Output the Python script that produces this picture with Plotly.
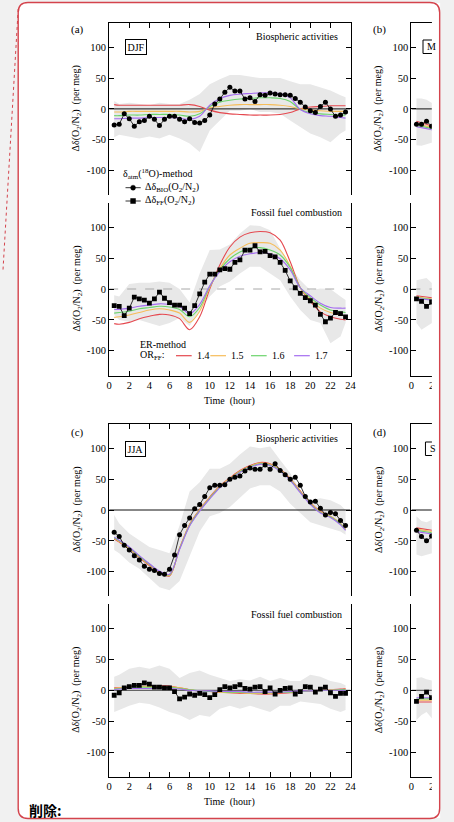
import plotly.graph_objects as go

W, H = 454, 822

# ---------------- data ----------------
hours = [0.5, 1.0, 1.5, 2.0, 2.5, 3.0, 3.5, 4.0, 4.5, 5.0, 5.5, 6.0, 6.5, 7.0, 7.5, 8.0,
         8.5, 9.0, 9.5, 10.0, 10.5, 11.0, 11.5, 12.0, 12.5, 13.0, 13.5, 14.0, 14.5, 15.0,
         15.5, 16.0, 16.5, 17.0, 17.5, 18.0, 18.5, 19.0, 19.5, 20.0, 20.5, 21.0, 21.5, 22.0,
         22.5, 23.0, 23.5]
grid = [0.5, 1, 2, 3, 4, 5, 6, 7, 8, 9, 10, 11, 12, 13, 14, 15, 16, 17, 18, 19, 20, 21, 22, 23, 23.5]
edge_hours = [0.5, 1.0, 1.5, 2.0, 2.5]

or_ff_labels = ["1.4", "1.5", "1.6", "1.7"]
x_tickvals = [0, 2, 4, 6, 8, 10, 12, 14, 16, 18, 20, 22, 24]
x_tickvals_edge = [0, 2]
y_tickvals = [-100, -50, 0, 50, 100]
y_ticktext = ["-100", "-50", "0", "50", "100"]

# (a) DJF, biospheric
djf_bio = [-26, -25, -8, -16, -28, -21, -19, -12, -17, -27, -17, -12, -12, -17, -21, -16, -22,
           -23, -19, -10, 8, 16, 27, 35, 29, 29, 16, 18, 12, 23, 22, 26, 24, 23, 23, 22, 17, 11,
           3, -3, -6, 4, 11, 0, -12, -10, -5]
djf_bio_up = [13, 8, 10, 8, 6, 10, 8, 8, 15, 24, 40, 48, 55, 55, 52, 50, 50, 50, 45, 40, 40, 35, 30, 22, 19]
djf_bio_lo = [-46, -42, -45, -48, -45, -48, -42, -48, -56, -70, -35, -19, -3, -3, 0, -5, -5, -8, -19, -30, -40, -46, -54, -40, -35]
djf_bio_er = [
    [7, 6, 6, 6, 6, 6, 6, 6, 7, 4, -2, -6, -8, -9, -10, -10, -10, -9, -6, 0, 3, 4, 5, 5, 5],
    [-5, -5, -4, -4, -4, -4, -4, -4, -5, -4, 2, 4, 6, 7, 7, 7, 7, 6, 4, 0, -2, -3, -4, -4, -4],
    [-11, -11, -10, -10, -9, -9, -9, -10, -12, -8, 4, 11, 14, 16, 17, 18, 18, 17, 12, -1, -6, -8, -9, -10, -10],
    [-16, -16, -15, -15, -14, -14, -14, -15, -17, -12, 6, 17, 22, 24, 25, 26, 26, 25, 18, -1, -8, -11, -12, -14, -15],
]

# (a) DJF, fossil fuel
djf_ff = [-27, -28, -43, -31, -13, -16, -18, -23, -16, -5, -15, -22, -26, -26, -31, -40, -27,
          -8, 11, 24, 24, 31, 33, 32, 43, 47, 63, 63, 70, 60, 61, 54, 52, 43, 30, 13, 2, -7,
          -14, -19, -26, -41, -53, -47, -38, -40, -45]
djf_ff_up = [-10, -12, 8, 10, 10, 12, 10, 0, -22, 25, 63, 64, 72, 90, 103, 102, 95, 65, 36, 14, -2, 1, 0, -12, -18]
djf_ff_lo = [-42, -50, -53, -50, -55, -60, -55, -47, -60, -34, -12, 4, 12, 25, 36, 36, 25, 14, -12, -34, -50, -55, -88, -77, -55]
djf_ff_er = [
    [-56, -57, -54, -48, -44, -41, -42, -48, -66, -45, 0, 39, 68, 84, 91, 93, 91, 79, 44, 2, -20, -37, -45, -49, -50],
    [-46, -45, -42, -38, -34, -32, -34, -39, -54, -36, 3, 33, 55, 66, 74, 75, 74, 63, 37, 2, -17, -31, -38, -42, -44],
    [-39, -38, -36, -32, -30, -28, -29, -33, -45, -30, 4, 31, 49, 60, 66, 67, 63, 55, 35, 2, -14, -26, -34, -37, -38],
    [-33, -33, -31, -28, -26, -24, -25, -28, -40, -25, 5, 28, 44, 53, 57, 59, 57, 49, 31, 2, -11, -23, -30, -31, -31],
]

# (c) JJA, biospheric
jja_bio = [-36, -43, -57, -65, -74, -81, -91, -96, -98, -103, -104, -96, -73, -40, -25, -13, 2,
           9, 22, 36, 40, 40, 41, 50, 53, 55, 63, 68, 66, 66, 73, 66, 75, 64, 57, 50, 53, 40,
           22, 13, 14, 3, -8, -4, -6, -17, -25]
jja_bio_up = [-8, -22, -38, -49, -60, -65, -70, -25, 30, 45, 67, 67, 75, 90, 103, 100, 103, 81, 60, 32, 16, 19, 16, 8, 0]
jja_bio_lo = [-65, -70, -85, -95, -110, -125, -130, -115, -75, -35, -10, -5, 5, 20, 35, 40, 40, 30, 10, -5, -20, -25, -30, -35, -40]
jja_bio_er = [
    [-47, -52, -63, -77, -90, -101, -107, -62, -23, 1, 21, 39, 52, 64, 72, 77, 75, 66, 51, 31, 12, -2, -10, -22, -31],
    [-46, -51, -62, -76, -89, -100, -106, -62, -24, 0, 20, 38, 51, 63, 71, 76, 74, 65, 50, 30, 11, -3, -10, -22, -31],
    [-45, -50, -61, -75, -88, -100, -105, -63, -25, -1, 19, 37, 50, 62, 70, 75, 73, 64, 49, 29, 10, -4, -11, -23, -32],
    [-44, -49, -60, -74, -87, -99, -104, -64, -26, -2, 18, 36, 49, 61, 69, 74, 72, 63, 48, 28, 9, -5, -12, -24, -33],
]

# (c) JJA, fossil fuel
jja_ff = [-8, -4, 4, 6, 8, 8, 12, 10, 5, 5, 4, 4, -2, -14, -11, -6, -8, -5, -7, -12, -7, 1,
          6, 4, 6, 9, 3, 2, 5, 6, -2, 4, -6, 0, 3, 4, -6, -2, 6, 5, -3, 2, 5, -4, -10, -5, -5]
jja_ff_up = [22, 25, 35, 38, 35, 40, 35, 20, 28, 32, 25, 20, 15, 18, 16, 22, 15, 20, 15, 15, 25, 22, 15, 12, 8]
jja_ff_lo = [-35, -32, -25, -20, -22, -28, -35, -40, -48, -40, -43, -30, -25, -30, -25, -30, -35, -25, -25, -18, -20, -22, -30, -35, -32]
jja_ff_er = [
    [4, 4, 5, 6, 7, 7, 7, 4, 1, -1, -2, -3, -4, -5, -5, -6, -6, -5, -4, -2, -1, 0, 1, 2, 3],
    [3, 4, 5, 6, 6, 6, 6, 4, 1, -1, -2, -3, -4, -4, -5, -5, -5, -4, -3, -2, -1, 0, 1, 1, 2],
    [2, 3, 4, 5, 5, 5, 5, 3, 1, -1, -2, -2, -3, -3, -4, -4, -4, -3, -3, -2, -1, 0, 0, 1, 1],
    [1, 2, 3, 3, 3, 3, 3, 2, 0, -1, -1, -2, -2, -2, -3, -3, -3, -3, -2, -1, -1, 0, 0, 0, 0],
]

# (b) MAM (only first hours visible)
mam_bio = [-25, -25, -20, -28, -30]
mam_bio_up = [17, 17, 15, 10, 8]
mam_bio_lo = [-59, -60, -58, -55, -55]
mam_bio_er = [[-20, -22, -25, -28, -30], [-25, -26, -28, -30, -32],
              [-27, -28, -30, -32, -34], [-29, -30, -32, -34, -36]]
mam_ff = [-16, -20, -28, -21, -18]
mam_ff_up = [14, 16, 18, 10, 8]
mam_ff_lo = [-55, -66, -60, -55, -50]
mam_ff_er = [[-11, -12, -13, -14, -15], [-13, -14, -15, -16, -17],
             [-14, -15, -16, -17, -18], [-15, -16, -17, -18, -19]]

# (d) SON (only first hours visible)
son_bio = [-33, -43, -50, -42, -38]
son_bio_up = [-10, -18, -20, -15, -12]
son_bio_lo = [-72, -75, -72, -70, -68]
son_bio_er = [[-29, -30, -31, -33, -34], [-31, -32, -33, -35, -36],
              [-33, -34, -35, -37, -38], [-35, -36, -37, -39, -40]]
son_ff = [-18, -10, -3, -12, -14]
son_ff_up = [20, 21, 18, 16, 14]
son_ff_lo = [-48, -40, -35, -45, -48]
son_ff_er = [[-19, -19, -19, -19, -19], [-16, -16, -16, -16, -16],
             [-14, -13.5, -13.5, -13.5, -13.5], [-12, -12, -12, -12, -12]]

# ---------------- styling ----------------
SERIF = "Liberation Serif"
ER_COLORS = ["#e5484f", "#f6bd5a", "#6cd46c", "#a46cf0"]
BAND = "#e8e8e8"
PAGE_BG = "#f1f1f1"
BORDER = "#d4434c"
X_RANGE = [0, 24]
X_RANGE_EDGE = [0, 2.03]
Y_RANGE = [-140, 140]


def fx(p):
    return p / W


def fy(p):
    return 1 - p / H


LEFT_DOM = [fx(108.3), fx(354.6)]
RIGHT_DOM = [fx(416.7), fx(416.7 + 2.03 * (354.6 - 108.3) / 24)]
ROWS = [(22.7, 195.1), (202.5, 375.5), (423.6, 596.4), (603.9, 776.7)]

panels = [
    dict(col=0, row=0, x=hours, y=djf_bio, sym="circle", mx=grid, up=djf_bio_up, lo=djf_bio_lo, er=djf_bio_er, zc="#111", zd="solid"),
    dict(col=0, row=1, x=hours, y=djf_ff, sym="square", mx=grid, up=djf_ff_up, lo=djf_ff_lo, er=djf_ff_er, zc="#a8a8a8", zd="dash"),
    dict(col=0, row=2, x=hours, y=jja_bio, sym="circle", mx=grid, up=jja_bio_up, lo=jja_bio_lo, er=jja_bio_er, zc="#111", zd="solid"),
    dict(col=0, row=3, x=hours, y=jja_ff, sym="square", mx=grid, up=jja_ff_up, lo=jja_ff_lo, er=jja_ff_er, zc="#444", zd="solid"),
    dict(col=1, row=0, x=edge_hours, y=mam_bio, sym="circle", mx=edge_hours, up=mam_bio_up, lo=mam_bio_lo, er=mam_bio_er, zc="#111", zd="solid"),
    dict(col=1, row=1, x=edge_hours, y=mam_ff, sym="square", mx=edge_hours, up=mam_ff_up, lo=mam_ff_lo, er=mam_ff_er, zc="#a8a8a8", zd="dash"),
    dict(col=1, row=2, x=edge_hours, y=son_bio, sym="circle", mx=edge_hours, up=son_bio_up, lo=son_bio_lo, er=son_bio_er, zc="#111", zd="solid"),
    dict(col=1, row=3, x=edge_hours, y=son_ff, sym="square", mx=edge_hours, up=son_ff_up, lo=son_ff_lo, er=son_ff_er, zc="#444", zd="solid"),
]

fig = go.Figure()
layout_axes = {}

for i, p in enumerate(panels, start=1):
    xa = "x" if i == 1 else f"x{i}"
    ya = "y" if i == 1 else f"y{i}"
    left = p["col"] == 0
    xr = X_RANGE if left else X_RANGE_EDGE
    smooth = "spline" if left else "linear"

    band_x = list(p["mx"]) + list(p["mx"])[::-1]
    band_y = list(p["up"]) + list(p["lo"])[::-1]
    fig.add_trace(go.Scatter(x=band_x, y=band_y, mode="lines", fill="toself",
                             fillcolor=BAND, line=dict(color="rgba(0,0,0,0)", width=0),
                             xaxis=xa, yaxis=ya, hoverinfo="skip", showlegend=False))
    fig.add_trace(go.Scatter(x=X_RANGE, y=[0, 0], mode="lines",
                             line=dict(color=p["zc"], width=1, dash=p["zd"]),
                             xaxis=xa, yaxis=ya, hoverinfo="skip", showlegend=False))
    for er_vals, col, lab in zip(p["er"], ER_COLORS, or_ff_labels):
        fig.add_trace(go.Scatter(x=p["mx"], y=er_vals, mode="lines", name=lab,
                                 line=dict(color=col, width=1.1, shape=smooth, smoothing=0.9),
                                 xaxis=xa, yaxis=ya, showlegend=False))
    fig.add_trace(go.Scatter(x=p["x"], y=p["y"], mode="lines+markers",
                             line=dict(color="black", width=0.8),
                             marker=dict(symbol=p["sym"], size=5 if p["sym"] == "circle" else 4.8,
                                         color="black", line=dict(width=0)),
                             xaxis=xa, yaxis=ya, showlegend=False))

    top, bot = ROWS[p["row"]]
    is_top = p["row"] in (0, 2)
    xkey = "xaxis" if i == 1 else f"xaxis{i}"
    ykey = "yaxis" if i == 1 else f"yaxis{i}"
    layout_axes[xkey] = dict(
        domain=LEFT_DOM if left else RIGHT_DOM,
        anchor=ya, range=xr, side="top" if is_top else "bottom",
        showline=True, linecolor="black", linewidth=1, mirror=False,
        ticks="inside", ticklen=5, tickwidth=1, tickcolor="black",
        tickvals=x_tickvals if left else x_tickvals_edge, showticklabels=not is_top,
        tickfont=dict(family=SERIF, size=10.5, color="black"),
        showgrid=False, zeroline=False, fixedrange=True,
    )
    layout_axes[ykey] = dict(
        domain=[fy(bot), fy(top)], anchor=xa, range=Y_RANGE,
        showline=True, linecolor="black", linewidth=1,
        mirror="ticks" if left else False,
        ticks="inside", ticklen=5, tickwidth=1, tickcolor="black",
        tickvals=y_tickvals, ticktext=y_ticktext,
        tickfont=dict(family=SERIF, size=10.5, color="black"),
        showgrid=False, zeroline=False, fixedrange=True,
    )

# ---------------- annotations ----------------
ann = []


def text(t, x, y, xanchor="center", size=10, **kw):
    ann.append(dict(text=t, x=fx(x), y=fy(y), xref="paper", yref="paper",
                    xanchor=xanchor, yanchor="middle", showarrow=False,
                    font=dict(family=kw.pop("family", SERIF), size=size, color="black"), **kw))


YTITLE = "Δδ(O<sub>2</sub>/N<sub>2</sub>)\u00a0\u00a0(per meg)"
for (top, bot) in ROWS:
    yc = (top + bot) / 2
    text(YTITLE, 75, yc, textangle=-90)
    text(YTITLE, 383.5, yc, textangle=-90)

for lab, x, y in [("(a)", 76, 30), ("(b)", 384, 30), ("(c)", 76, 432), ("(d)", 384, 432)]:
    text(lab, x, y, size=11)

text("Biospheric activities", 343.5, 36.7, xanchor="right")
text("Biospheric activities", 343.5, 438.3, xanchor="right")
text("Fossil fuel combustion", 348, 213, xanchor="right")
text("Fossil fuel combustion", 348, 614, xanchor="right")
text("DJF", 135.5, 46.8, bordercolor="black", borderwidth=1, borderpad=1.5)
text("JJA", 135.2, 449, bordercolor="black", borderwidth=1, borderpad=1.5)
text("M", 431, 47, xanchor="left")
text("S", 433.5, 448.5, xanchor="left")
text("Time\u00a0\u00a0(hour)", 231.5, 400.7)
text("Time\u00a0\u00a0(hour)", 231.5, 801.7)

# legend for the delta-18O method
text("δ<sub>atm</sub>(<sup>18</sup>O)-method", 120.7, 174.3, xanchor="left")
text("Δδ<sub>BIO</sub>(O<sub>2</sub>/N<sub>2</sub>)", 143.3, 187.7, xanchor="left")
text("Δδ<sub>FF</sub>(O<sub>2</sub>/N<sub>2</sub>)", 143.3, 201, xanchor="left")

# legend for the ER method
text("ER-method", 137.3, 344.3, xanchor="left")
text("OR<sub>FF</sub>:", 137.3, 355.7, xanchor="left")
er_leg_x = [176.5, 211.5, 253, 297]
for lab, x0 in zip(or_ff_labels, er_leg_x):
    text(lab, x0 + 19, 355.7, xanchor="left")

text("<b>削除:</b>", 24, 810, xanchor="left", size=14, family="Noto Sans CJK JP")

# ---------------- shapes ----------------
shapes = []


def rounded_path(x0, y0, x1, y1, r):
    X0, X1 = fx(x0), fx(x1)
    Y0, Y1 = fy(y0), fy(y1)
    rx, ry = r / W, r / H
    return (f"M {X0 + rx},{Y0} L {X1 - rx},{Y0} Q {X1},{Y0} {X1},{Y0 - ry} "
            f"L {X1},{Y1 + ry} Q {X1},{Y1} {X1 - rx},{Y1} "
            f"L {X0 + rx},{Y1} Q {X0},{Y1} {X0},{Y1 + ry} "
            f"L {X0},{Y0 - ry} Q {X0},{Y0} {X0 + rx},{Y0} Z")


BOX = (15.5, 2.5, 445.5, 818.5, 10)
shapes.append(dict(type="path", path=rounded_path(*BOX), xref="paper", yref="paper",
                   fillcolor="white", line=dict(width=0), layer="below"))
shapes.append(dict(type="line", xref="paper", yref="paper", x0=fx(15.5), y0=fy(9),
                   x1=fx(0), y1=fy(270), line=dict(color=BORDER, width=1, dash="dot"),
                   layer="above"))

# legend symbols (delta-18O method)
for yy, kind in [(187.7, "circle"), (201, "rect")]:
    shapes.append(dict(type="line", xref="paper", yref="paper", x0=fx(125), x1=fx(140.5),
                       y0=fy(yy), y1=fy(yy), line=dict(color="black", width=0.8), layer="above"))
    shapes.append(dict(type=kind, xref="paper", yref="paper", x0=fx(130.2), x1=fx(135.2),
                       y0=fy(yy - 2.5), y1=fy(yy + 2.5), fillcolor="black",
                       line=dict(color="black", width=0.5), layer="above"))
# legend lines (ER method)
for col, x0 in zip(ER_COLORS, er_leg_x):
    shapes.append(dict(type="line", xref="paper", yref="paper", x0=fx(x0), x1=fx(x0 + 16),
                       y0=fy(355.7), y1=fy(355.7), line=dict(color=col, width=1.2), layer="above"))

# boxes of the cut-off season labels
shapes.append(dict(type="rect", xref="paper", yref="paper", x0=fx(428.5), x1=fx(441),
                   y0=fy(40), y1=fy(53.5), line=dict(color="black", width=1), layer="above"))
shapes.append(dict(type="rect", xref="paper", yref="paper", x0=fx(431), x1=fx(441),
                   y0=fy(442), y1=fy(455.5), line=dict(color="black", width=1), layer="above"))

# white cover where the embedded figure is cut off
shapes.append(dict(type="rect", xref="paper", yref="paper", x0=fx(437.6), x1=fx(446),
                   y0=fy(3), y1=fy(818), fillcolor="white", line=dict(width=0), layer="above"))
# rounded red border
shapes.append(dict(type="path", path=rounded_path(*BOX), xref="paper", yref="paper",
                   line=dict(color=BORDER, width=1.4), layer="above"))

fig.update_layout(
    width=W, height=H, margin=dict(l=0, r=0, t=0, b=0),
    paper_bgcolor=PAGE_BG, plot_bgcolor="rgba(0,0,0,0)",
    font=dict(family=SERIF, size=10, color="black"),
    showlegend=False, annotations=ann, shapes=shapes,
    **layout_axes,
)

fig.write_html("out.html", config={"displayModeBar": False})
